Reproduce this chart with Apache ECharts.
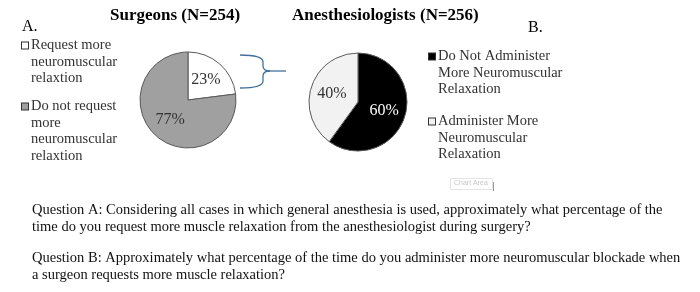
<!DOCTYPE html>
<html>
<head>
<meta charset="utf-8">
<script src="https://cdn.jsdelivr.net/npm/echarts@6/dist/echarts.min.js"></script>
<style>
  html, body { margin: 0; padding: 0; background: #fff; }
  #chart { width: 700px; height: 292px; }
</style>
</head>
<body>
<div id="chart"></div>
<script>
// data
const surgeonNames = ['Request more neuromuscular relaxtion', 'Do not request more neuromuscular relaxtion']
const surgeonValues = [23, 77]
const surgeonColors = ['#ffffff', '#a0a0a0']
const surgeonLegendLines = [['Request more', 'neuromuscular', 'relaxtion'], ['Do not request', 'more', 'neuromuscular', 'relaxtion']]

const anesNames = ['Do Not Administer More Neuromuscular Relaxation', 'Administer More Neuromuscular Relaxation']
const anesValues = [60, 40]
const anesColors = ['#000000', '#f2f2f2']
const anesLegendLines = [['Do Not Administer', 'More Neuromuscular', 'Relaxation'], ['Administer More', 'Neuromuscular', 'Relaxation']]

const questionA = ['Question A: Considering all cases in which general anesthesia is used, approximately what percentage of the',
  'time do you request more muscle relaxation from the anesthesiologist during surgery?']
const questionB = ['Question B: Approximately what percentage of the time do you administer more neuromuscular blockade when',
  'a surgeon requests more muscle relaxation?']

const serif = 'Liberation Serif'
const lh = 16.5
const bracketColor = '#41719c'

function legendRich(colors) {
  let rich = {
    t: { fontFamily: serif, fontSize: 14.5, color: '#333', lineHeight: lh, verticalAlign: 'middle' },
    s: { width: 9, height: 7, lineHeight: lh }
  }
  colors.forEach(function (c, i) {
    rich['m' + i] = { width: 6, height: 6, backgroundColor: c, borderColor: '#333', borderWidth: 1, lineHeight: lh, verticalAlign: 'middle' }
    rich['g' + i] = { width: 3, height: 6, lineHeight: lh }
  })
  return rich
}

function legendFormatter(names, lines) {
  return function (name) {
    let i = names.indexOf(name)
    return lines[i].map(function (l, k) {
      return (k === 0 ? '{m' + i + '|}{g' + i + '|}' : '{s|}') + '{t|' + l + '}'
    }).join('\n')
  }
}

function toData(names, values, colors) {
  return names.map(function (n, i) {
    return { name: n, value: values[i], itemStyle: { color: colors[i] } }
  })
}

function seg(type, shape) {
  return { type: type, shape: shape, style: { fill: null, stroke: bracketColor, lineWidth: 1.3 } }
}

const myChart = echarts.init(document.getElementById('chart'))

let option = {
  animation: false,
  title: [
    { text: 'Surgeons (N=254)', left: 110, top: 7, padding: 0,
      textStyle: { fontFamily: serif, fontSize: 17, fontWeight: 'bold', color: '#000' } },
    { text: 'Anesthesiologists (N=256)', left: 292, top: 7, padding: 0,
      textStyle: { fontFamily: serif, fontSize: 17, fontWeight: 'bold', color: '#000' } }
  ],
  legend: [
    {
      data: surgeonNames, orient: 'vertical', left: 15, top: 38, padding: 0,
      icon: 'rect', itemWidth: 1, itemHeight: 1, itemGap: 13, selectedMode: false,
      itemStyle: { opacity: 0 },
      formatter: legendFormatter(surgeonNames, surgeonLegendLines),
      textStyle: { rich: legendRich(surgeonColors) }
    },
    {
      data: anesNames, orient: 'vertical', left: 422, top: 49, padding: 0,
      icon: 'rect', itemWidth: 1, itemHeight: 1, itemGap: 17, selectedMode: false,
      itemStyle: { opacity: 0 },
      formatter: legendFormatter(anesNames, anesLegendLines),
      textStyle: { rich: legendRich(anesColors) }
    }
  ],
  series: [
    {
      type: 'pie', center: [188, 100], radius: 48, startAngle: 90,
      itemStyle: { borderColor: '#595959', borderWidth: 1 },
      label: { position: 'inside', formatter: '{c}%', fontFamily: serif, fontSize: 16, color: '#333' },
      labelLine: { show: false },
      data: toData(surgeonNames, surgeonValues, surgeonColors)
    },
    {
      type: 'pie', center: [358, 102], radius: 49, startAngle: 90,
      itemStyle: { borderColor: '#595959', borderWidth: 1 },
      label: { position: 'inside', formatter: '{c}%', fontFamily: serif, fontSize: 16, color: '#333' },
      labelLine: { show: false },
      data: [
        { name: anesNames[0], value: anesValues[0], itemStyle: { color: anesColors[0] }, label: { color: '#fff' } },
        { name: anesNames[1], value: anesValues[1], itemStyle: { color: anesColors[1] } }
      ]
    }
  ],
  graphic: [
    { type: 'text', x: 22, y: 19, style: { text: 'A.', fontFamily: serif, fontSize: 16, fill: '#000' } },
    { type: 'text', x: 528, y: 20, style: { text: 'B.', fontFamily: serif, fontSize: 16, fill: '#000' } },
    seg('bezierCurve', { x1: 240, y1: 55, cpx1: 263, cpy1: 55, x2: 263, y2: 62 }),
    seg('line', { x1: 263, y1: 62, x2: 263, y2: 66 }),
    seg('bezierCurve', { x1: 263, y1: 66, cpx1: 263, cpy1: 71, x2: 270, y2: 71 }),
    seg('line', { x1: 270, y1: 71, x2: 286, y2: 71 }),
    seg('bezierCurve', { x1: 270, y1: 71, cpx1: 263, cpy1: 71, x2: 263, y2: 76 }),
    seg('line', { x1: 263, y1: 76, x2: 263, y2: 81 }),
    seg('bezierCurve', { x1: 263, y1: 81, cpx1: 263, cpy1: 88, x2: 240, y2: 88 }),
    { type: 'rect', shape: { x: 450.5, y: 178.5, width: 42, height: 11 }, style: { fill: '#fff', stroke: '#e4e4e4', lineWidth: 1 } },
    { type: 'text', x: 454, y: 180, style: { text: 'Chart Area', fontFamily: 'Liberation Sans', fontSize: 7, fill: '#c8c8c8' } },
    { type: 'rect', shape: { x: 493, y: 182, width: 1, height: 9 }, style: { fill: '#999' } },
    { type: 'text', x: 32, y: 202, style: { text: questionA.join('\n'), fontFamily: serif, fontSize: 14.5, lineHeight: 17, fill: '#111' } },
    { type: 'text', x: 32, y: 250, style: { text: questionB.join('\n'), fontFamily: serif, fontSize: 14.5, lineHeight: 17, fill: '#111' } }
  ]
}

myChart.setOption(option)
</script>
</body>
</html>
